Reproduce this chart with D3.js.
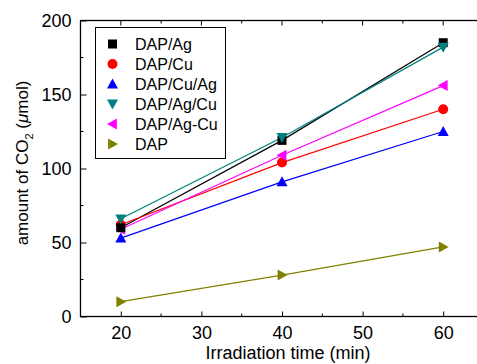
<!DOCTYPE html>
<html><head><meta charset="utf-8">
<script src="https://cdn.jsdelivr.net/npm/d3@7"></script>
<style>body{margin:0;background:#fff}svg{display:block;font-family:"Liberation Sans",Arial,sans-serif}</style>
</head><body><svg id="c" width="477" height="364"></svg>
<script>
const times = [20, 40, 60];
const seriesNames = ["DAP/Ag", "DAP/Cu", "DAP/Cu/Ag", "DAP/Ag/Cu", "DAP/Ag-Cu", "DAP"];
const dapAg   = [60, 119, 185];
const dapCu   = [62, 104, 140];
const dapCuAg = [53, 91, 125];
const dapAgCu = [66, 121, 182];
const dapAgDashCu = [59, 109, 156];
const dap     = [10, 28, 47];
const xTicks = [20, 30, 40, 50, 60];
const yTicks = [0, 50, 100, 150, 200];

const colors = ["#000000", "#ff0000", "#0000ff", "#008080", "#ff00ff", "#808000"];
const shapes = ["square", "circle", "up", "down", "left", "right"];
const values = [dapAg, dapCu, dapCuAg, dapAgCu, dapAgDashCu, dap];

const svg = d3.select("#c");
const L = 80.5, T = 20.5, B = 316.5, R = 483.5;
const x = d3.scaleLinear().domain([15, 65]).range([L, R]);
const y = d3.scaleLinear().domain([0, 200]).range([B, T]);

function marker(g, shape, cx, cy, color) {
  const s = 5.5;
  if (shape === "square") g.append("rect").attr("x", cx-4.5).attr("y", cy-4.5).attr("width", 9).attr("height", 9).attr("fill", color);
  else if (shape === "circle") g.append("circle").attr("cx", cx).attr("cy", cy).attr("r", 5).attr("fill", color);
  else {
    let pts;
    if (shape === "up") pts = [[0,-s],[s,s*0.8],[-s,s*0.8]];
    if (shape === "down") pts = [[0,s],[s,-s*0.8],[-s,-s*0.8]];
    if (shape === "left") pts = [[-s,0],[s*0.8,-s],[s*0.8,s]];
    if (shape === "right") pts = [[s,0],[-s*0.8,-s],[-s*0.8,s]];
    g.append("polygon").attr("points", pts.map(p => [cx+p[0], cy+p[1]].join(",")).join(" ")).attr("fill", color);
  }
}

// lines
const line = d3.line().x((d,i) => x(times[i])).y(d => y(d));
values.forEach((v, k) => {
  svg.append("path").attr("d", line(v)).attr("fill", "none").attr("stroke", colors[k]).attr("stroke-width", 1.2);
});
// markers
const order = [5, 2, 1, 4, 0, 3];
order.forEach(k => {
  const g = svg.append("g");
  values[k].forEach((v, i) => marker(g, shapes[k], x(times[i]), y(v), colors[k]));
});

// frame
svg.append("rect").attr("x", L).attr("y", T).attr("width", R-L).attr("height", B-T).attr("fill", "none").attr("stroke", "#000").attr("stroke-width", 1.3);

// axes
const xAxis = d3.axisBottom(x).tickValues(xTicks).tickSize(-5).tickPadding(10);
const gx = svg.append("g").attr("transform", `translate(0,${B})`).call(xAxis);
const yAxis = d3.axisLeft(y).tickValues(yTicks).tickSize(-6).tickPadding(9);
const gy = svg.append("g").attr("transform", `translate(${L},0)`).call(yAxis);
[gx, gy].forEach(g => {
  g.select(".domain").remove();
  g.selectAll("text").attr("font-size", 18).attr("font-family", "Liberation Sans, Arial, sans-serif").attr("fill", "#000");
  g.selectAll("line").attr("stroke", "#000");
});
// minor ticks
[25, 35, 45, 55].forEach(v => {
  svg.append("line").attr("x1", x(v)).attr("x2", x(v)).attr("y1", B).attr("y2", B-3).attr("stroke", "#000");
});
[20,25,30,35,40,45,50,55,60].forEach(v => {
  svg.append("line").attr("x1", x(v)).attr("x2", x(v)).attr("y1", T).attr("y2", T+(v%10===0?5:3)).attr("stroke", "#000");
});
[25, 75, 125, 175].forEach(v => {
  svg.append("line").attr("x1", L).attr("x2", L+3).attr("y1", y(v)).attr("y2", y(v)).attr("stroke", "#000");
});

// axis labels
svg.append("text").attr("x", 288).attr("y", 359).attr("text-anchor", "middle").attr("font-size", 18).text("Irradiation time (min)");
const yl = svg.append("text").attr("transform", `translate(28,163) rotate(-90)`).attr("text-anchor", "middle").attr("font-size", 17);
yl.append("tspan").text("amount of CO");
yl.append("tspan").attr("font-size", 11).attr("dy", 5).text("2");
yl.append("tspan").attr("dy", -5).text(" (");
yl.append("tspan").attr("font-style", "italic").text("μ");
yl.append("tspan").text("mol)");

// legend
const lg = svg.append("g");
lg.append("rect").attr("x", 95.5).attr("y", 27.5).attr("width", 130).attr("height", 131).attr("fill", "#fff").attr("stroke", "#000").attr("stroke-width", 1);
seriesNames.forEach((n, k) => {
  const cy = 44 + k * 20;
  marker(lg, shapes[k], 112.5, cy, colors[k]);
  lg.append("text").attr("x", 135).attr("y", cy + 6).attr("font-size", 16).text(n);
});
</script></body></html>
